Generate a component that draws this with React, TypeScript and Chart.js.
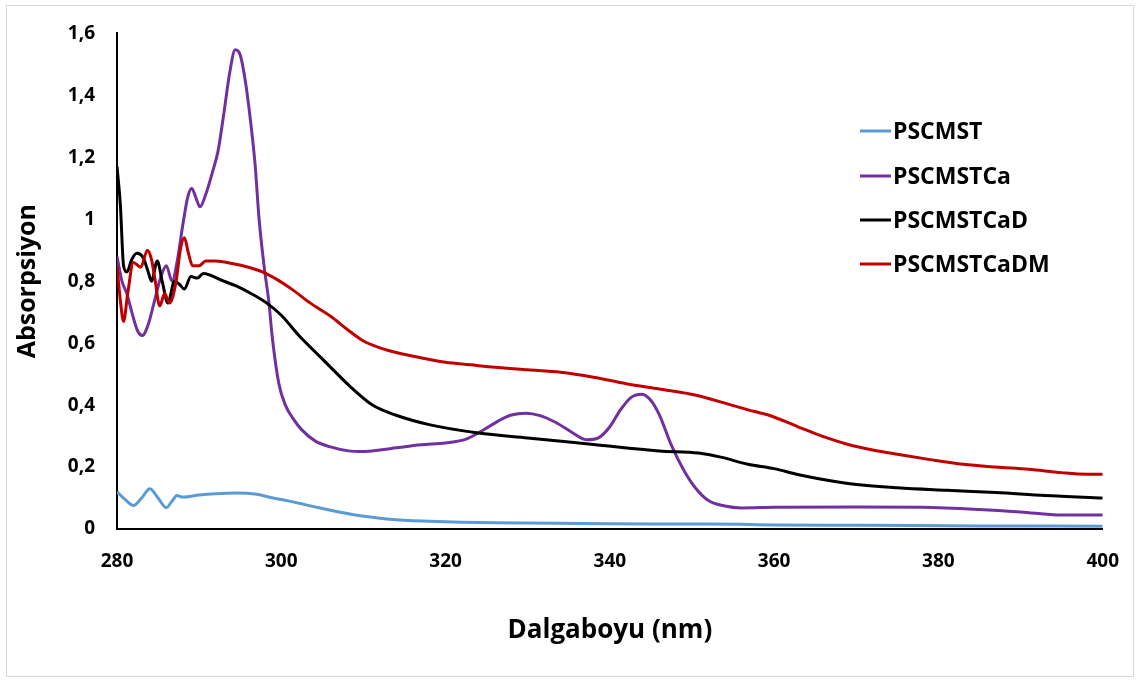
import React, { useEffect, useRef } from "react";
import { Chart, registerables } from "chart.js";

Chart.register(...registerables);

const seriesNames = ["PSCMST", "PSCMSTCa", "PSCMSTCaD", "PSCMSTCaDM"];
const seriesColors = ["#5b9bd5", "#7030a0", "#000000", "#c00000"];

const xTicks = [280, 300, 320, 340, 360, 380, 400];
const yTicks = [0, 0.2, 0.4, 0.6, 0.8, 1, 1.2, 1.4, 1.6];

const pscmstX = [280, 281, 282, 283, 284, 285, 286, 286.7, 287.3, 288, 290, 292, 294.5, 297, 299, 301, 303, 305, 307, 309, 312, 315, 318, 322, 326, 330, 340, 350, 356, 360, 370, 385, 400];
const pscmstY = [0.12, 0.095, 0.076, 0.1, 0.13, 0.1, 0.069, 0.09, 0.108, 0.103, 0.11, 0.114, 0.116, 0.112, 0.1, 0.09, 0.078, 0.066, 0.055, 0.045, 0.035, 0.028, 0.025, 0.022, 0.02, 0.019, 0.017, 0.016, 0.015, 0.013, 0.012, 0.01, 0.009];

const pscmstCaX = [280, 280.6, 281.2, 281.8, 282.5, 283.1, 283.8, 284.6, 285.3, 286, 286.7, 287.3, 288, 288.6, 289.1, 289.6, 290.1, 290.8, 291.6, 292.3, 293, 293.7, 294.4, 295, 295.6, 296.2, 296.8, 297.3, 297.9, 298.5, 298.9, 299.7, 300.5, 301.4, 302.5, 304.2, 306, 308, 310, 312, 314, 317, 320, 322.5, 324.5, 326.5, 328, 329.8, 331.5, 333.5, 335.5, 337.2, 338.6, 340, 341.3, 342.6, 343.9, 345, 346, 347.5, 349, 350.5, 352, 354, 356, 360, 370, 378, 385, 390, 395, 400];
const pscmstCaY = [0.88, 0.8, 0.76, 0.7, 0.64, 0.625, 0.66, 0.74, 0.81, 0.85, 0.8, 0.86, 0.98, 1.07, 1.1, 1.07, 1.04, 1.08, 1.15, 1.22, 1.34, 1.47, 1.547, 1.53, 1.45, 1.33, 1.18, 1.0, 0.85, 0.73, 0.62, 0.47, 0.4, 0.358, 0.32, 0.283, 0.265, 0.253, 0.25, 0.255, 0.262, 0.272, 0.278, 0.29, 0.318, 0.35, 0.368, 0.374, 0.366, 0.343, 0.31, 0.288, 0.294, 0.33, 0.385, 0.425, 0.435, 0.415, 0.37, 0.27, 0.19, 0.13, 0.092, 0.074, 0.068, 0.07, 0.071, 0.07, 0.063, 0.055, 0.045, 0.045];

const pscmstCaDX = [280, 280.4, 280.8, 281.2, 281.8, 282.4, 283.2, 283.8, 284.2, 284.9, 285.5, 286.2, 287, 287.6, 288.2, 289, 289.8, 290.5, 291.3, 293, 294.5, 296.2, 298.2, 300, 302.2, 304.2, 306.2, 308.3, 311.1, 313.9, 318, 324, 330, 338, 346, 350.8, 353.5, 356.8, 360, 363, 369, 375, 381, 387, 393, 400];
const pscmstCaDY = [1.17, 1.05, 0.85, 0.83, 0.87, 0.89, 0.875, 0.83, 0.8, 0.865, 0.8, 0.73, 0.8, 0.79, 0.775, 0.815, 0.81, 0.825, 0.82, 0.8, 0.785, 0.762, 0.73, 0.69, 0.623, 0.57, 0.517, 0.462, 0.4, 0.368, 0.337, 0.31, 0.294, 0.273, 0.252, 0.245, 0.232, 0.209, 0.195, 0.175, 0.147, 0.133, 0.125, 0.118, 0.108, 0.1];

const pscmstCaDMX = [280, 280.4, 280.8, 281.3, 282, 282.9, 283.7, 284.2, 284.6, 285.2, 285.8, 286.4, 287.2, 287.7, 288.2, 288.7, 289.2, 290, 290.8, 292, 294, 296, 297.7, 299.5, 301.4, 303.5, 306, 308, 310, 312, 314, 317, 320, 323, 326, 330, 334, 338, 342, 346, 350.5, 354.8, 357.5, 359.3, 362.9, 366, 369, 372, 375, 379, 383, 387, 391, 395, 398, 400];
const pscmstCaDMY = [0.85, 0.74, 0.67, 0.76, 0.86, 0.845, 0.9, 0.87, 0.81, 0.72, 0.76, 0.73, 0.8, 0.9, 0.94, 0.89, 0.85, 0.85, 0.865, 0.865, 0.857, 0.845, 0.83, 0.805, 0.772, 0.73, 0.687, 0.645, 0.607, 0.585, 0.57, 0.553, 0.538, 0.53, 0.522, 0.514, 0.506, 0.49, 0.469, 0.452, 0.432, 0.4, 0.38, 0.368, 0.33, 0.298, 0.273, 0.255, 0.241, 0.224, 0.209, 0.2, 0.193, 0.182, 0.177, 0.177];

const seriesX = [pscmstX, pscmstCaX, pscmstCaDX, pscmstCaDMX];
const seriesY = [pscmstY, pscmstCaY, pscmstCaDY, pscmstCaDMY];

const FONT = '"Open Sans", "DejaVu Sans", sans-serif';

const legendPlugin = {
  id: "customLegend",
  afterDraw(chart: any) {
    const ctx = chart.ctx;
    const rows = [131, 176, 220, 264];
    ctx.save();
    chart.data.datasets.forEach((ds: any, i: number) => {
      const y = rows[i];
      ctx.strokeStyle = ds.borderColor;
      ctx.lineWidth = 3;
      ctx.beginPath();
      ctx.moveTo(860, y);
      ctx.lineTo(891, y);
      ctx.stroke();
      ctx.fillStyle = "#000";
      ctx.font = `bold 23px ${FONT}`;
      ctx.textAlign = "left";
      ctx.textBaseline = "middle";
      ctx.fillText(ds.label, 893, y + 1);
    });
    ctx.restore();
  },
};

export default function App() {
  const ref = useRef<HTMLCanvasElement | null>(null);

  useEffect(() => {
    if (!ref.current) return;
    const datasets = seriesNames.map((name, i) => ({
      label: name,
      data: seriesX[i].map((x, j) => ({ x, y: seriesY[i][j] })),
      borderColor: seriesColors[i],
      backgroundColor: seriesColors[i],
      borderWidth: 3,
      pointRadius: 0,
      fill: false,
      cubicInterpolationMode: "monotone" as const,
      order: 4 - i,
    }));
    const chart = new Chart(ref.current, {
      type: "line",
      data: { datasets },
      plugins: [legendPlugin],
      options: {
        responsive: false,
        animation: false,
        layout: { padding: { top: 27, right: 35, left: 0, bottom: 0 } },
        plugins: { legend: { display: false }, tooltip: { enabled: false } },
        scales: {
          x: {
            type: "linear",
            min: 280,
            max: 400,
            afterBuildTicks: (scale: any) => {
              scale.ticks = xTicks.map((v) => ({ value: v }));
            },
            afterFit: (scale: any) => {
              scale.height = 154;
            },
            grid: { display: false, drawTicks: false },
            border: { display: true, color: "#000", width: 2 },
            ticks: {
              color: "#000",
              font: { family: FONT, size: 19, weight: "bold" },
              padding: 21,
              maxRotation: 0,
              autoSkip: false,
            },
            title: {
              display: true,
              text: "Dalgaboyu (nm)",
              color: "#000",
              font: { family: FONT, size: 26, weight: "bold" },
              padding: { top: 0, bottom: 37 },
            },
          },
          y: {
            type: "linear",
            min: 0,
            max: 1.6,
            afterBuildTicks: (scale: any) => {
              scale.ticks = yTicks.map((v) => ({ value: v }));
            },
            afterFit: (scale: any) => {
              scale.width = 117;
            },
            grid: { display: false, drawTicks: false },
            border: { display: true, color: "#000", width: 2 },
            ticks: {
              color: "#000",
              font: { family: FONT, size: 19, weight: "bold" },
              padding: 22,
              callback: (v: any) => String(Math.round(Number(v) * 10) / 10).replace(".", ","),
            },
            title: {
              display: true,
              text: "Absorpsiyon",
              color: "#000",
              font: { family: FONT, size: 25, weight: "bold" },
              padding: { top: 13, bottom: 0 },
            },
          },
        },
      },
    });
    return () => chart.destroy();
  }, []);

  return (
    <div style={{ position: "absolute", left: 0, top: 0, width: 1140, height: 683, background: "#fff" }}>
      <div
        style={{
          position: "absolute",
          left: 6,
          top: 5,
          width: 1126,
          height: 670,
          border: "1px solid #d9d9d9",
          pointerEvents: "none",
        }}
      />
      <canvas ref={ref} width={1140} height={683} style={{ position: "absolute", left: 0, top: 0 }} />
    </div>
  );
}
